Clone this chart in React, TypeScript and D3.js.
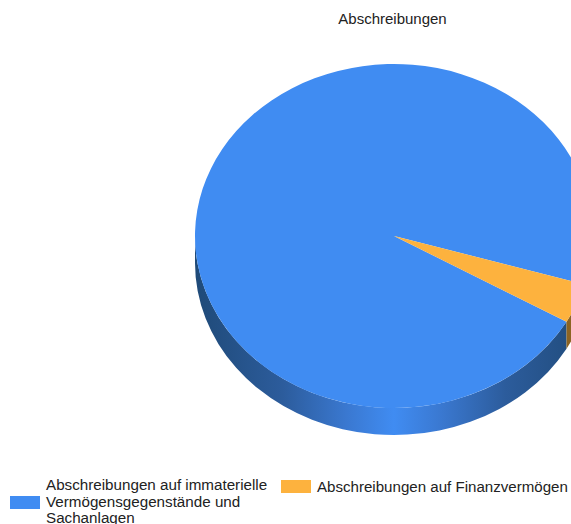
import React from 'react';
import * as d3 from 'd3';

const slices = ['Abschreibungen auf immaterielle Vermögensgegenstände und Sachanlagen', 'Abschreibungen auf Finanzvermögen'];
const shares = [96.25, 3.75];
const topColors = ['#408cf2', '#fdb23e'];
const wallColors = ['url(#wallBlue)', '#8c6423'];
const blueLegendLines = ['Abschreibungen auf immaterielle', 'Vermögensgegenstände und', 'Sachanlagen'];
const orangeLegendLines = ['Abschreibungen auf Finanzvermögen'];

const width = 571;
const height = 524;
const cx = 394;
const cy = 236;
const rx = 199;
const ry = 172;
const depth = 27;
const FONT = '"Liberation Sans", Arial, sans-serif';

const rad = (deg: number) => (deg * Math.PI) / 180;

export default function App() {
  const squash = ry / rx;
  const pie = d3.pie<number>().sort(null).startAngle(rad(119.9)).endAngle(rad(119.9 + 360));
  const arcs = pie(shares);
  const arc = d3.arc<d3.PieArcDatum<number>>().innerRadius(0).outerRadius(rx);

  // side wall: only the part of a slice that faces the viewer (lower half)
  const wallPath = (a0: number, a1: number) => {
    const from = Math.max(a0, rad(90));
    const to = Math.min(a1, rad(270));
    if (to <= from) return null;
    const p = d3.path();
    const off = -Math.PI / 2; // d3.pie 0 = 12 o'clock, path 0 = 3 o'clock
    p.arc(0, 0, rx, from + off, to + off);
    p.arc(0, depth / squash, rx, to + off, from + off, true);
    p.closePath();
    return p.toString();
  };

  return (
    <div style={{ position: 'absolute', left: 0, top: 0, width, height, overflow: 'hidden', background: 'white' }}>
      <svg width={width} height={height} style={{ display: 'block' }}>
        <defs>
          {/* gradient is in the local coordinates of the pie group, so x runs -rx..rx */}
          <linearGradient id="wallBlue" gradientUnits="userSpaceOnUse" x1={-rx} x2={rx} y1={0} y2={0}>
            <stop offset="0" stopColor="#1f4a78" />
            <stop offset="0.22" stopColor="#2c5c9c" />
            <stop offset="0.38" stopColor="#3a78d0" />
            <stop offset="0.5" stopColor="#408cf2" />
            <stop offset="0.62" stopColor="#3a78d0" />
            <stop offset="0.78" stopColor="#2c5c9c" />
            <stop offset="1" stopColor="#1f4a78" />
          </linearGradient>
        </defs>

        <text x={392.5} y={24} textAnchor="middle" fontFamily={FONT} fontSize={15} fill="#222">Abschreibungen</text>

        <g transform={`translate(${cx},${cy}) scale(1,${squash})`}>
          {arcs.map((d, i) => {
            const w = wallPath(d.startAngle, d.endAngle);
            const w2 = wallPath(d.startAngle - rad(360), d.endAngle - rad(360));
            return (
              <g key={slices[i]}>
                {w && <path d={w} fill={wallColors[i]} />}
                {w2 && <path d={w2} fill={wallColors[i]} />}
              </g>
            );
          })}
          {arcs.map((d, i) => (
            <path key={slices[i]} d={arc(d) as string} fill={topColors[i]} />
          ))}
        </g>

        <rect x={10} y={496} width={30} height={13} fill={topColors[0]} />
        {blueLegendLines.map((t, i) => (
          <text key={t} x={46} y={490 + i * 16.5} fontFamily={FONT} fontSize={15.2} fill="#222">{t}</text>
        ))}
        <rect x={281} y={480} width={30} height={13} fill={topColors[1]} />
        {orangeLegendLines.map(t => (
          <text key={t} x={317} y={492} fontFamily={FONT} fontSize={15.1} fill="#222">{t}</text>
        ))}
      </svg>
    </div>
  );
}
